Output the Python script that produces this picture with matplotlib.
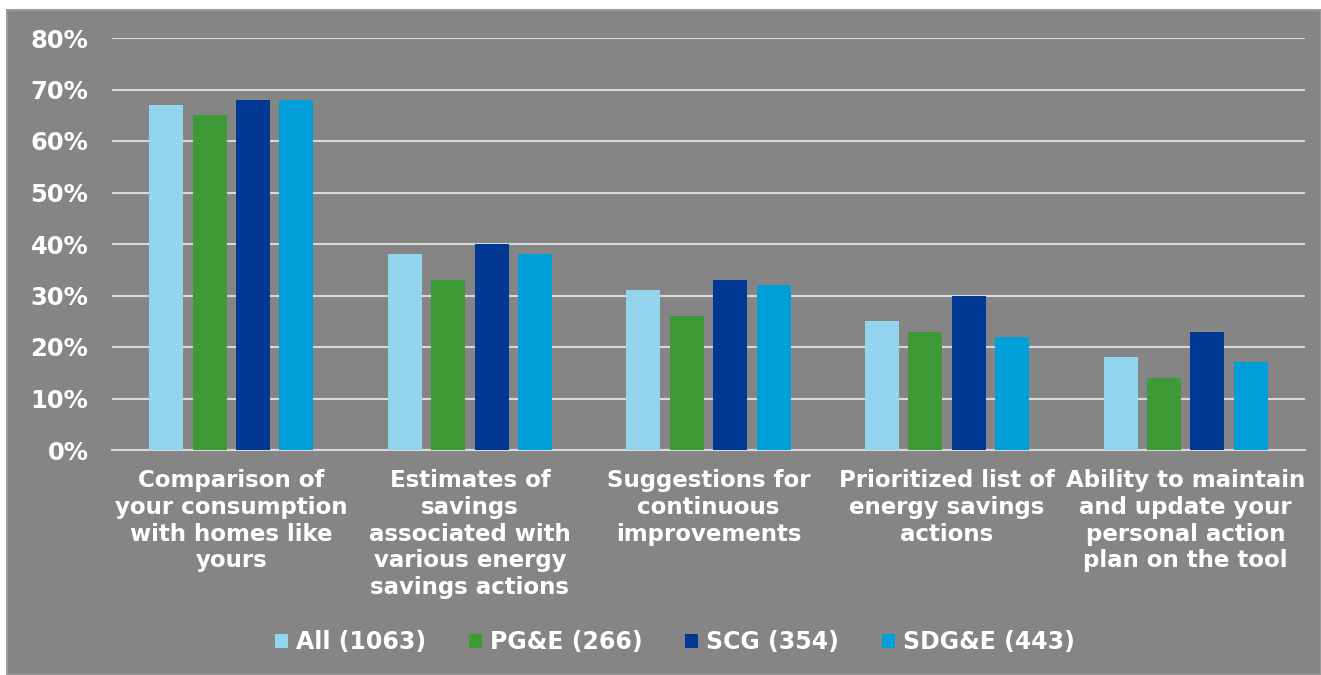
import matplotlib
matplotlib.use("Agg")
import matplotlib.pyplot as plt
import numpy as np
from matplotlib.patches import Rectangle

# ---- data -------------------------------------------------------------
categories = [
    "Comparison of\nyour consumption\nwith homes like\nyours",
    "Estimates of\nsavings\nassociated with\nvarious energy\nsavings actions",
    "Suggestions for\ncontinuous\nimprovements",
    "Prioritized list of\nenergy savings\nactions",
    "Ability to maintain\nand update your\npersonal action\nplan on the tool",
]
series_names = ["All (1063)", "PG&E (266)", "SCG (354)", "SDG&E (443)"]
all_vals = [67, 38, 31, 25, 18]
pge_vals = [65, 33, 26, 23, 14]
scg_vals = [68, 40, 33, 30, 23]
sdge_vals = [68, 38, 32, 22, 17]
y_ticks = [0, 10, 20, 30, 40, 50, 60, 70, 80]

colors = ["#93D4EF", "#3E9A36", "#003894", "#009FDA"]
bg = "#858585"
grid_col = "#D9D9D9"

# ---- figure -----------------------------------------------------------
fig = plt.figure(figsize=(13.21, 6.75), dpi=100)
fig.patch.set_facecolor("white")
fig.patches.append(Rectangle((7 / 1321, 0), 1 - 7 / 1321, 665 / 675,
                             transform=fig.transFigure, facecolor=bg,
                             edgecolor="#9A9A9A", linewidth=1.5, zorder=-5))

ax = fig.add_axes([112 / 1321, (675 - 450) / 675, (1305 - 112) / 1321, (450 - 38) / 675])
ax.set_facecolor("none")

x = np.arange(len(categories))
width = 0.143
step = 0.182
for i, (vals, name) in enumerate(zip([all_vals, pge_vals, scg_vals, sdge_vals], series_names)):
    ax.bar(x + (i - 1.5) * step, vals, width, color=colors[i], label=name, zorder=3)

ax.set_xlim(-0.5, len(categories) - 0.5)
ax.set_ylim(0, 80)
ax.set_yticks(y_ticks)
ax.set_yticklabels([f"{v}%" for v in y_ticks])
ax.yaxis.grid(True, color=grid_col, linewidth=1.5, zorder=1)
ax.set_axisbelow(True)
for s in ["top", "right", "left"]:
    ax.spines[s].set_visible(False)
ax.spines["bottom"].set_color(grid_col)
ax.spines["bottom"].set_linewidth(1.5)
ax.tick_params(axis="y", length=0, pad=17, labelcolor="white", labelsize=17.5)
ax.tick_params(axis="x", length=0, pad=14)
for lbl in ax.get_yticklabels():
    lbl.set_fontweight("bold")

ax.set_xticks(x)
ax.set_xticklabels(categories, color="white", fontsize=16.5, fontweight="bold",
                   linespacing=1.2, va="top")

leg = fig.legend(loc="center", bbox_to_anchor=(675 / 1321, (675 - 642) / 675), ncol=4,
                 frameon=False, handlelength=0.55, handleheight=0.55, handletextpad=0.34,
                 columnspacing=1.8,
                 prop={"weight": "bold", "size": 17})
for t in leg.get_texts():
    t.set_color("white")

plt.savefig("out.png", dpi=100, facecolor=fig.get_facecolor())
